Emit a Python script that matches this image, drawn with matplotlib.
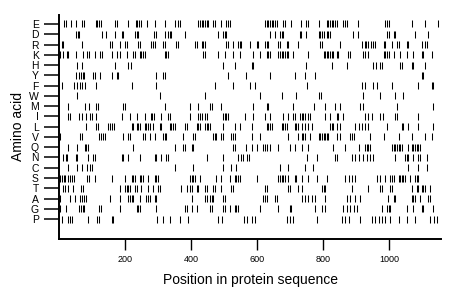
import matplotlib
matplotlib.use("Agg")
import matplotlib.pyplot as plt

plt.rcParams['font.family'] = ['Liberation Sans', 'DejaVu Sans']

# amino acids, top row to bottom row
amino_acids = ['E', 'D', 'R', 'K', 'H', 'Y', 'F', 'W', 'M', 'I',
               'L', 'V', 'Q', 'N', 'C', 'S', 'T', 'A', 'G', 'P']

# positions of each residue in the sequence
pos_E = [16, 22, 38, 53, 69, 75, 111, 116, 121, 127, 170, 176, 210, 232, 237, 242, 248, 268,
         292, 320, 352, 360, 366, 422, 427, 432, 437, 442, 447, 452, 467, 472, 492, 507, 512,
         517, 624, 629, 634, 639, 644, 649, 654, 659, 679, 684, 704, 734, 749, 754, 786, 811,
         816, 821, 826, 831, 836, 841, 861, 866, 871, 906, 988, 993, 998, 1068, 1108, 1148]
pos_D = [53, 57, 62, 129, 144, 170, 190, 195, 230, 235, 240, 288, 294, 320, 330, 335, 340,
         382, 482, 497, 502, 507, 639, 654, 669, 674, 679, 729, 734, 749, 786, 791, 796, 801,
         811, 816, 821, 891, 906, 993, 998, 1013, 1018, 1078, 1118]
pos_R = [8, 13, 69, 155, 161, 185, 200, 205, 240, 245, 280, 285, 290, 315, 320, 355, 360,
         412, 417, 432, 437, 442, 507, 512, 527, 542, 547, 552, 579, 599, 604, 624, 629, 634,
         664, 669, 689, 694, 724, 791, 796, 851, 916, 926, 931, 936, 946, 951, 956, 983, 988,
         1008, 1023, 1028, 1053, 1058, 1098, 1108, 1113]
pos_K = [4, 12, 24, 29, 52, 72, 86, 91, 109, 124, 129, 160, 176, 185, 205, 225, 230, 245,
         250, 255, 260, 320, 325, 330, 437, 442, 482, 502, 527, 547, 589, 609, 629, 634, 639,
         664, 669, 674, 679, 684, 689, 694, 709, 754, 801, 806, 811, 816, 821, 826, 831, 841,
         846, 876, 881, 921, 926, 936, 983, 988, 993, 998, 1013, 1033, 1053, 1073, 1098, 1103,
         1128]
pos_H = [56, 69, 170, 210, 218, 497, 532, 584, 589, 749, 826, 871, 951, 961, 973, 978, 1033,
         1038, 1068, 1073, 1108]
pos_Y = [52, 62, 67, 72, 77, 104, 109, 124, 160, 175, 180, 295, 315, 320, 512, 567, 639, 714,
         745, 776, 1098, 1103]
pos_F = [9, 45, 55, 64, 69, 80, 112, 220, 295, 472, 527, 579, 594, 752, 917, 927, 952, 962,
         1008, 1088, 1128, 1133]
pos_W = [56, 305, 442, 609, 674, 719, 786, 793, 922, 973, 1018, 1043]
pos_M = [28, 79, 92, 112, 117, 195, 200, 320, 397, 422, 457, 462, 492, 589, 629, 634, 709,
         771, 806, 836, 851, 910, 920, 1023, 1133]
pos_I = [28, 33, 62, 69, 82, 94, 99, 112, 190, 215, 235, 260, 278, 283, 288, 310, 330, 335,
         397, 422, 427, 432, 442, 447, 497, 502, 507, 512, 562, 589, 624, 639, 679, 694, 709,
         714, 729, 735, 740, 745, 755, 761, 806, 821, 841, 846, 861, 927, 937, 947, 973, 981,
         1018, 1023, 1088]
pos_L = [81, 112, 117, 150, 155, 160, 166, 220, 225, 235, 240, 245, 260, 265, 270, 275, 285,
         305, 310, 335, 340, 345, 350, 382, 387, 417, 422, 427, 442, 447, 452, 457, 497, 532,
         547, 584, 629, 634, 639, 644, 674, 679, 684, 689, 714, 719, 724, 735, 745, 755, 766,
         821, 826, 831, 842, 852, 897, 907, 917, 927, 937, 993, 1038, 1043, 1058, 1088, 1133]
pos_V = [2, 63, 69, 122, 128, 134, 140, 195, 210, 215, 255, 260, 275, 290, 315, 320, 325,
         377, 407, 412, 467, 472, 477, 492, 497, 522, 527, 532, 584, 609, 694, 724, 735, 740,
         745, 761, 786, 791, 796, 801, 806, 811, 816, 842, 852, 882, 887, 892, 942, 983, 1028,
         1068, 1108, 1128]
pos_Q = [28, 55, 78, 83, 88, 225, 350, 375, 382, 402, 407, 527, 532, 567, 584, 599, 619, 624,
         629, 639, 664, 699, 714, 735, 755, 831, 867, 907, 927, 932, 937, 942, 1008, 1013,
         1018, 1023, 1028, 1033, 1038, 1058, 1068, 1073, 1078, 1083, 1088, 1093]
pos_N = [12, 21, 26, 51, 56, 89, 104, 110, 190, 195, 210, 245, 290, 295, 310, 325, 330, 447,
         497, 542, 552, 557, 570, 575, 750, 781, 836, 842, 887, 897, 907, 922, 932, 942, 952,
         1018, 1048, 1053, 1058, 1073, 1088, 1093, 1113]
pos_C = [27, 55, 69, 86, 93, 100, 350, 407, 497, 522, 537, 669, 694, 745, 770, 1058, 1088,
         1113]
pos_S = [2, 8, 14, 20, 27, 33, 40, 46, 86, 91, 108, 160, 200, 220, 225, 230, 245, 250, 255,
         270, 290, 295, 300, 397, 402, 407, 412, 427, 477, 492, 517, 532, 537, 542, 547, 599,
         664, 669, 674, 679, 684, 694, 714, 719, 735, 755, 781, 811, 867, 877, 887, 897, 963,
         973, 988, 1003, 1008, 1013, 1028, 1033, 1038, 1043, 1048, 1063, 1078, 1083, 1088]
pos_T = [12, 19, 27, 42, 67, 72, 185, 200, 205, 210, 215, 230, 235, 250, 270, 285, 300, 305,
         370, 387, 397, 402, 417, 422, 442, 447, 467, 472, 492, 522, 527, 624, 629, 694, 699,
         724, 735, 796, 801, 806, 887, 937, 973, 978, 1003, 1008, 1068, 1083, 1088, 1098, 1103,
         1108, 1123]
pos_A = [3, 35, 50, 65, 70, 75, 81, 155, 185, 210, 215, 220, 225, 245, 265, 270, 275, 290,
         295, 402, 442, 447, 457, 462, 467, 497, 502, 619, 624, 629, 654, 659, 735, 745, 755,
         766, 776, 806, 872, 882, 897, 912, 997, 1013, 1018, 1068, 1073, 1078, 1093, 1118, 1123]
pos_G = [2, 22, 62, 67, 72, 77, 122, 128, 185, 235, 240, 245, 295, 382, 387, 402, 417, 457,
         462, 497, 502, 517, 532, 537, 542, 609, 664, 699, 704, 776, 796, 806, 861, 872, 882,
         892, 902, 978, 993, 998, 1003, 1053, 1073, 1098, 1103, 1133]
pos_P = [9, 28, 34, 39, 88, 116, 121, 160, 165, 296, 316, 336, 367, 392, 483, 493, 559, 569,
         584, 594, 690, 700, 710, 781, 857, 867, 877, 912, 947, 958, 968, 978, 988, 1003, 1028,
         1053, 1079, 1124, 1134, 1144]

positions = [pos_E, pos_D, pos_R, pos_K, pos_H, pos_Y, pos_F, pos_W, pos_M, pos_I,
             pos_L, pos_V, pos_Q, pos_N, pos_C, pos_S, pos_T, pos_A, pos_G, pos_P]

xticks = [200, 400, 600, 800, 1000]
seq_length = 1157

fig = plt.figure(figsize=(4.6, 2.99), dpi=100)
ax = fig.add_axes([0.128, 0.202, 0.831, 0.748])

n = len(amino_acids)
for i, (aa, pos) in enumerate(zip(amino_acids, positions)):
    y = n - 1 - i
    ax.vlines(pos, y - 0.34, y + 0.34, color='black', linewidth=0.75)

ax.set_xlim(0, seq_length)
ax.set_ylim(-1.9, n - 1 + 0.88)

ax.set_yticks(range(n))
ax.set_yticklabels(amino_acids[::-1], fontsize=7.5)
ax.set_xticks(xticks)
ax.set_xticklabels([str(t) for t in xticks], fontsize=6.5)

ax.tick_params(axis='y', length=11, width=1.1, pad=3.5)
ax.tick_params(axis='x', length=8, width=1.0, pad=3.5)

for side in ['top', 'right']:
    ax.spines[side].set_visible(False)
for side in ['left', 'bottom']:
    ax.spines[side].set_linewidth(1.4)

ax.set_xlabel('Position in protein sequence', fontsize=10, labelpad=7)
ax.set_ylabel('Amino acid', fontsize=10, labelpad=3)

fig.savefig('out.png', dpi=100)
